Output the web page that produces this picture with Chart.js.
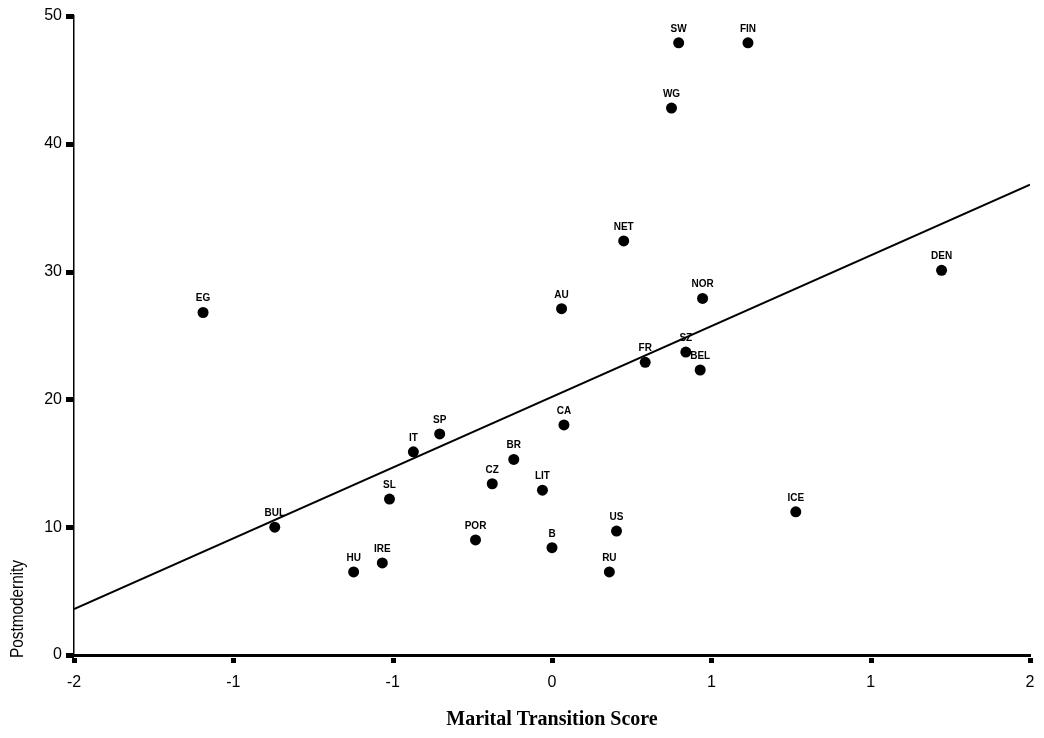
<!DOCTYPE html>
<html>
<head>
<meta charset="utf-8">
<script src="https://cdn.jsdelivr.net/npm/chart.js@4.4.0/dist/chart.umd.min.js"></script>
<style>
html,body{margin:0;padding:0;background:#fff;}
canvas{display:block;}
</style>
</head>
<body>
<canvas id="c" width="1044" height="738"></canvas>
<script>
// ---- data ----
const countries = ['EG','IT','SP','BR','CZ','LIT','SL','BUL','US','POR','B','IRE','HU','RU',
                   'NET','AU','NOR','FR','SZ','BEL','CA','SW','FIN','WG','DEN','ICE'];
const maritalScore = [-1.46,-0.58,-0.47,-0.16,-0.25,-0.04,-0.68,-1.16,0.27,-0.32,0.00,-0.71,-0.83,0.24,
                      0.30,0.04,0.63,0.39,0.56,0.62,0.05,0.53,0.82,0.50,1.63,1.02];
const postmodernity = [26.8,15.9,17.3,15.3,13.4,12.9,12.2,10.0,9.7,9.0,8.4,7.2,6.5,6.5,
                       32.4,27.1,27.9,22.9,23.7,22.3,18.0,47.9,47.9,42.8,30.1,11.2];
const fitX = [-2, 2];
const fitY = [3.6, 36.8];
const xTicks = [-2, -4/3, -2/3, 0, 2/3, 4/3, 2];
const xTickLabels = ['-2','-1','-1','0','1','1','2'];
const yTicks = [0, 10, 20, 30, 40, 50];
const xTitle = 'Marital Transition Score';
const yTitle = 'Postmodernity';

const points = maritalScore.map((x, i) => ({x: x, y: postmodernity[i]}));
const fitLine = fitX.map((x, i) => ({x: x, y: fitY[i]}));

const tickMarks = {
  id: 'tickMarks',
  afterDraw(chart) {
    const ctx = chart.ctx;
    const xs = chart.scales.x, ys = chart.scales.y;
    ctx.save();
    ctx.fillStyle = '#000';
    xTicks.forEach(v => {
      const px = xs.getPixelForValue(v);
      ctx.fillRect(Math.round(px) - 2, ys.bottom + 3, 5, 5);
    });
    yTicks.forEach(v => {
      const py = ys.getPixelForValue(v);
      ctx.fillRect(xs.left - 8, Math.round(py) - 2, 8, 5);
    });
    ctx.restore();
  }
};

const yTitlePlugin = {
  id: 'yTitlePlugin',
  afterDraw(chart) {
    const ctx = chart.ctx;
    const ys = chart.scales.y;
    ctx.save();
    ctx.fillStyle = '#000';
    ctx.font = '18px "Liberation Sans", Arial, sans-serif';
    const w = ctx.measureText(yTitle).width;
    ctx.translate(18, ys.bottom + 3);
    ctx.rotate(-Math.PI / 2);
    ctx.scale(98 / w, 1);
    ctx.textAlign = 'left';
    ctx.textBaseline = 'middle';
    ctx.fillText(yTitle, 0, 0);
    ctx.restore();
  }
};

const pointLabels = {
  id: 'pointLabels',
  afterDatasetsDraw(chart) {
    const ctx = chart.ctx;
    const meta = chart.getDatasetMeta(0);
    ctx.save();
    ctx.fillStyle = '#000';
    ctx.font = 'bold 10px "Liberation Sans", Arial, sans-serif';
    ctx.textAlign = 'center';
    ctx.textBaseline = 'alphabetic';
    meta.data.forEach((el, i) => {
      ctx.fillText(countries[i], el.x, el.y - 11);
    });
    ctx.restore();
  }
};

new Chart(document.getElementById('c'), {
  type: 'scatter',
  data: {
    datasets: [
      {
        data: points,
        backgroundColor: '#000',
        borderColor: '#000',
        pointRadius: 5.5,
        pointHoverRadius: 5.5,
        pointBorderWidth: 0
      },
      {
        type: 'line',
        data: fitLine,
        borderColor: '#000',
        borderWidth: 2,
        pointRadius: 0,
        fill: false,
        tension: 0
      }
    ]
  },
  plugins: [tickMarks, pointLabels, yTitlePlugin],
  options: {
    responsive: false,
    devicePixelRatio: 1,
    animation: false,
    layout: {padding: {top: 16, right: 14, left: 0, bottom: 0}},
    plugins: {legend: {display: false}, tooltip: {enabled: false}},
    scales: {
      x: {
        type: 'linear',
        min: -2, max: 2,
        afterBuildTicks: s => { s.ticks = xTicks.map(v => ({value: v})); },
        afterFit: s => { s.height = 83; s.paddingLeft = 0; s.paddingRight = 0; },
        ticks: {
          callback: (v, i) => xTickLabels[i],
          color: '#000',
          font: {family: '"Liberation Sans", Arial, sans-serif', size: 16},
          padding: 18,
          maxRotation: 0,
          autoSkip: false
        },
        grid: {display: true, drawOnChartArea: false, drawTicks: false},
        border: {display: true, color: '#000', width: 3},
        title: {
          display: true,
          text: xTitle,
          color: '#000',
          font: {family: '"Liberation Serif", "Times New Roman", serif', size: 20, weight: 'bold'},
          padding: {top: 0, bottom: 6}
        }
      },
      y: {
        type: 'linear',
        min: 0, max: 50,
        afterBuildTicks: s => { s.ticks = yTicks.map(v => ({value: v})); },
        afterFit: s => { s.width = 74; s.paddingTop = 0; s.paddingBottom = 0; },
        ticks: {
          color: '#000',
          font: {family: '"Liberation Sans", Arial, sans-serif', size: 16},
          padding: 12
        },
        grid: {display: true, drawOnChartArea: false, drawTicks: false},
        border: {display: true, color: '#000', width: 1.5},
        title: {display: false}
      }
    }
  }
});
</script>
</body>
</html>
